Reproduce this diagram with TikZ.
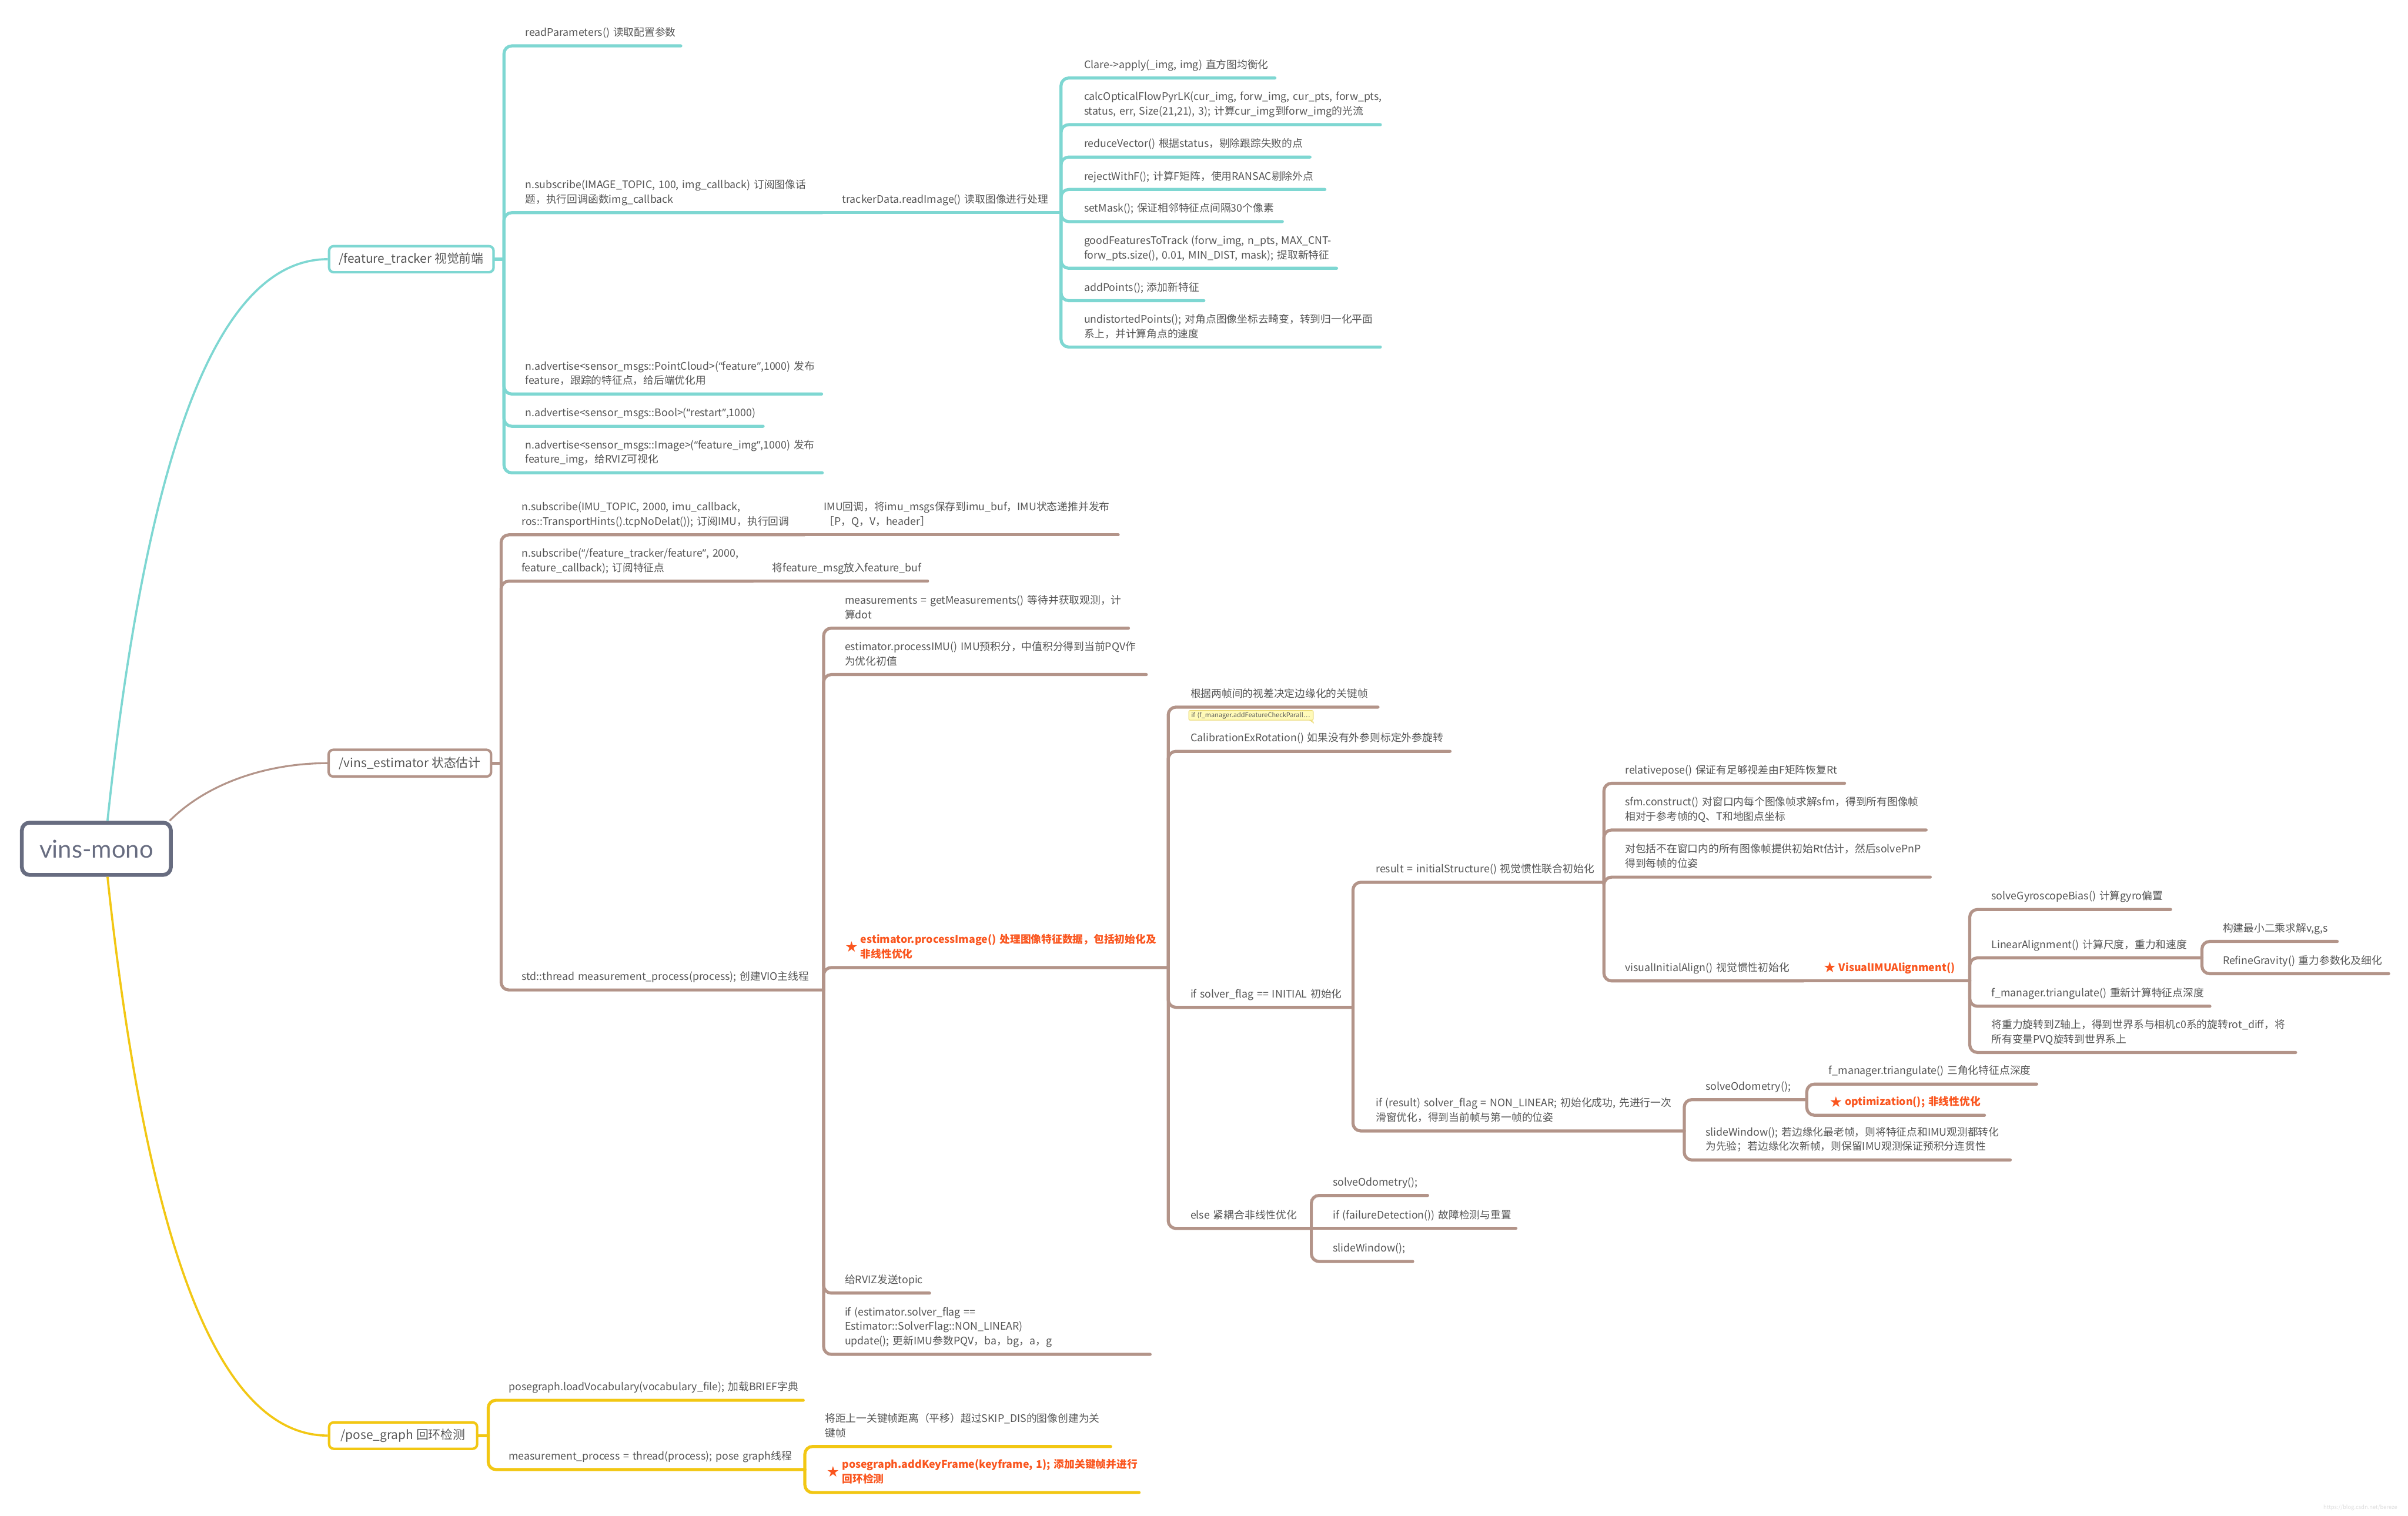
\documentclass[tikz,border=0pt]{standalone}
\usepackage{fontspec}
\setmainfont{Noto Sans CJK SC}
\newfontfamily\starfont{DejaVu Sans}
\newfontfamily\rootfont{Lato}
\newfontfamily\qf{Noto Sans}
\newcommand\qq[1]{{\qf “}#1{\qf ”}}
\usetikzlibrary{calc}
\definecolor{tealc}{RGB}{126,215,210}
\definecolor{brn}{RGB}{179,148,137}
\definecolor{ylw}{RGB}{242,199,19}
\definecolor{rootc}{RGB}{103,108,128}
\definecolor{txt}{RGB}{85,85,85}
\definecolor{redt}{RGB}{250,85,30}
\definecolor{notefill}{RGB}{255,250,185}
\definecolor{notebd}{RGB}{232,214,105}
\newcommand\fs{\fontsize{6.8}{9.5}\selectfont}
\newcommand\tfs{\fontsize{8}{10}\selectfont}
\newcommand\stS{\makebox[10.2pt][l]{\raisebox{-0.8pt}{\starfont\fontsize{9.5}{9.5}\selectfont ★}}}
\newcommand\stD{\makebox[10.2pt][l]{\smash{\raisebox{-5.5pt}{\starfont\fontsize{9.5}{9.5}\selectfont ★}}}}
\newcommand\TN[6][]{\pgfmathsetmacro\tnw{#5-#3}\node[tp,text width=\tnw pt,#1] (#2) at (#3,#4) {#6};}
\begin{document}
\begin{tikzpicture}[x=1pt,y=-1pt,
  tp/.style={anchor=south west, inner xsep=0pt, inner ysep=3.2pt, align=left, font=\fs, text=txt, execute at end node=\strut},
  redn/.style={text=redt, font=\fs\bfseries},
  ttl/.style={draw, line width=1.6pt, rounded corners=3pt, fill=white, font=\tfs, text=txt, inner sep=0pt},
  cT/.style={draw=tealc, line width=2pt, rounded corners=5pt, line cap=round},
  cB/.style={draw=brn, line width=2pt, rounded corners=5pt, line cap=round},
  cY/.style={draw=ylw, line width=2pt, rounded corners=5pt, line cap=round}]
\useasboundingbox (0,0) rectangle (1568,987);
\fill[white] (0,0) rectangle (1568,987);

% root and main branches
\node[draw=rootc, line width=2.5pt, rounded corners=5pt, minimum width=97pt, minimum height=34pt, inner sep=0pt, text=rootc, font=\rootfont\fontsize{16}{18}\selectfont] (root) at (62.75,552.75) {vins-mono};
\node[ttl, draw=tealc, minimum width=107.1pt, minimum height=17pt] (ft) at (267.85,168.8) {/feature\_tracker 视觉前端};
\node[ttl, draw=brn, minimum width=105.8pt, minimum height=17.4pt] (ve) at (266.9,497) {/vins\_estimator 状态估计};
\node[ttl, draw=ylw, minimum width=96.4pt, minimum height=17.2pt] (pg) at (262.5,934.9) {/pose\_graph 回环检测};

\draw[tealc, line width=1.4pt] ([xshift=7.25pt]root.north) .. controls +(25,-236) and +(-73.5,0) .. (ft.west);
\draw[brn, line width=1.2pt] ([xshift=-2pt]root.north east) .. controls +(25,-25) and +(-38.5,0) .. (ve.west);
\draw[ylw, line width=1.4pt] ([xshift=7.25pt]root.south) .. controls +(25,234) and +(-73.5,0) .. (pg.west);

% ---------- feature_tracker ----------
\TN{f1}{341.9}{29.9}{442.9}{\mbox{readParameters() 读取配置参数}}
\TN{f2}{341.9}{138.5}{535}{\mbox{n.subscribe(IMAGE\_TOPIC, 100, img\_callback) 订阅图像话}\\\mbox{题，执行回调函数img\_callback}}
\TN{f3}{341.9}{256.6}{534.6}{\mbox{n.advertise<sensor\_msgs::PointCloud>(\qq{feature},1000) 发布}\\\mbox{feature，跟踪的特征点，给后端优化用}}
\TN{f4}{341.9}{277.6}{496.5}{\mbox{n.advertise<sensor\_msgs::Bool>(\qq{restart},1000)}}
\TN{f5}{341.9}{307.9}{535}{\mbox{n.advertise<sensor\_msgs::Image>(\qq{feature\_img},1000) 发布}\\\mbox{feature\_img，给RVIZ可视化}}
\TN{t0}{548.3}{138.5}{690.5}{\mbox{trackerData.readImage() 读取图像进行处理}}
\TN{t1}{705.7}{50.8}{829.8}{\mbox{Clare->apply(\_img, img) 直方图均衡化}}
\TN{t2}{705.7}{81.2}{898.4}{\mbox{calcOpticalFlowPyrLK(cur\_img, forw\_img, cur\_pts, forw\_pts,}\\\mbox{status, err, Size(21,21), 3); 计算cur\_img到forw\_img的光流}}
\TN{t3}{705.7}{102.3}{852.6}{\mbox{reduceVector() 根据status，剔除跟踪失败的点}}
\TN{t4}{705.7}{123.4}{862.3}{\mbox{rejectWithF(); 计算F矩阵，使用RANSAC剔除外点}}
\TN{t5}{705.7}{144.3}{834.6}{\mbox{setMask(); 保证相邻特征点间隔30个像素}}
\TN{t6}{705.7}{174.7}{869.9}{\mbox{goodFeaturesToTrack (forw\_img, n\_pts, MAX\_CNT-}\\\mbox{forw\_pts.size(), 0.01, MIN\_DIST, mask); 提取新特征}}
\TN{t7}{705.7}{195.8}{783.5}{\mbox{addPoints(); 添加新特征}}
\TN{t8}{705.7}{226.0}{898.4}{\mbox{undistortedPoints(); 对角点图像坐标去畸变，转到归一化平面}\\\mbox{系上，并计算角点的速度}}

\coordinate (ftS) at (328.2,168.8);
\draw[cT] (ft.east) -- (ftS);
\foreach \n in {f1,f2,f3,f4,f5} \draw[cT] (ftS) |- (\n.south east);
\draw[cT] (f2.south east) -- (t0.south east);
\foreach \n in {t1,t2,t3,t4,t5,t6,t7,t8} \draw[cT] (t0.south east) |- (\n.south east);

% ---------- vins_estimator ----------
\TN{v1}{339.5}{348.3}{523.5}{\mbox{n.subscribe(IMU\_TOPIC, 2000, imu\_callback,}\\\mbox{ros::TransportHints().tcpNoDelat()); 订阅IMU，执行回调}}
\TN{v1c}{536.3}{348.3}{727.7}{\mbox{IMU回调，将imu\_msgs保存到imu\_buf，IMU状态递推并发布}\\\mbox{［P，Q，V，header］}}
\TN{v2}{339.5}{378.5}{490}{\mbox{n.subscribe(\qq{/feature\_tracker/feature}, 2000,}\\\mbox{feature\_callback); 订阅特征点}}
\TN{v2c}{502.8}{378.5}{603.6}{\mbox{将feature\_msg放入feature\_buf}}
\TN{v3}{339.5}{644.7}{535.9}{\mbox{std::thread measurement\_process(process); 创建VIO主线程}}

\TN{s1}{549.9}{409.1}{734.4}{\mbox{measurements = getMeasurements() 等待并获取观测，计}\\\mbox{算dot}}
\TN{s2}{549.9}{439.3}{746}{\mbox{estimator.processIMU() IMU预积分，中值积分得到当前PQV作}\\\mbox{为优化初值}}
\TN[redn]{s3}{550}{630.1}{760.3}{\mbox{\stD estimator.processImage() 处理图像特征数据，包括初始化及}\\\mbox{\hspace*{10.2pt}非线性优化}}
\TN{s4}{549.9}{842.1}{604.9}{\mbox{给RVIZ发送topic}}
\TN{s5}{549.9}{882}{748.5}{\mbox{if (estimator.solver\_flag ==}\\\mbox{Estimator::SolverFlag::NON\_LINEAR)}\\\mbox{update(); 更新IMU参数PQV，ba，bg，a，g}}

\TN{p1}{775}{460.5}{896.9}{\mbox{根据两帧间的视差决定边缘化的关键帧}}
\TN{p2}{775}{489.3}{943.8}{\mbox{CalibrationExRotation() 如果没有外参则标定外参旋转}}
\TN{p3}{775}{656}{880.6}{\mbox{if solver\_flag == INITIAL 初始化}}
\TN{p4}{775}{800}{853.5}{\mbox{else 紧耦合非线性优化}}

\TN{q1}{895.7}{574.6}{1044}{\mbox{result = initialStructure() 视觉惯性联合初始化}}
\TN{q2}{895.7}{736.5}{1096.3}{\mbox{if (result) solver\_flag = NON\_LINEAR; 初始化成功, 先进行一次}\\\mbox{滑窗优化，得到当前帧与第一帧的位姿}}

\TN{r1}{1058}{510.1}{1200.7}{\mbox{relativepose() 保证有足够视差由F矩阵恢复Rt}}
\TN{r2}{1058}{540.5}{1253.8}{\mbox{sfm.construct() 对窗口内每个图像帧求解sfm，得到所有图像帧}\\\mbox{相对于参考帧的Q、T和地图点坐标}}
\TN{r3}{1058}{571.2}{1256.5}{\mbox{对包括不在窗口内的所有图像帧提供初始Rt估计，然后solvePnP}\\\mbox{得到每帧的位姿}}
\TN{r4}{1058}{638.8}{1174}{\mbox{visualInitialAlign() 视觉惯性初始化}}
\TN[redn]{r4c}{1187}{638.8}{1282.2}{\mbox{\stS VisualIMUAlignment()}}

\TN{w1}{1296.6}{592.3}{1413}{\mbox{solveGyroscopeBias() 计算gyro偏置}}
\TN{w2}{1296.6}{623.8}{1433.4}{\mbox{LinearAlignment() 计算尺度，重力和速度}}
\TN{x1}{1447.2}{613.1}{1521.5}{\mbox{构建最小二乘求解v,g,s}}
\TN{x2}{1447.2}{634.1}{1555}{\mbox{RefineGravity() 重力参数化及细化}}
\TN{w3}{1296.6}{655.3}{1438.6}{\mbox{f\_manager.triangulate() 重新计算特征点深度}}
\TN{w4}{1296.6}{685.4}{1494.4}{\mbox{将重力旋转到Z轴上，得到世界系与相机c0系的旋转rot\_diff，将}\\\mbox{所有变量PVQ旋转到世界系上}}

\TN{y1}{1110.5}{716.1}{1176.1}{\mbox{solveOdometry();}}
\TN{z1}{1190.7}{706}{1325.8}{\mbox{f\_manager.triangulate() 三角化特征点深度}}
\TN[redn]{z2}{1191}{726.3}{1291.8}{\mbox{\stS optimization(); 非线性优化}}
\TN{y2}{1110.5}{755.4}{1308.6}{\mbox{slideWindow(); 若边缘化最老帧，则将特征点和IMU观测都转化}\\\mbox{为先验；若边缘化次新帧，则保留IMU观测保证预积分连贯性}}

\TN{e1}{867.7}{778.5}{929.2}{\mbox{solveOdometry();}}
\TN{e2}{867.7}{800}{986.7}{\mbox{if (failureDetection()) 故障检测与重置}}
\TN{e3}{867.7}{821.5}{919.5}{\mbox{slideWindow();}}

\coordinate (veS) at (326.3,497);
\draw[cB] (ve.east) -- (veS);
\foreach \n in {v1,v2,v3} \draw[cB] (veS) |- (\n.south east);
\draw[cB] (v1.south east) -- (v1c.south east);
\draw[cB] (v2.south east) -- (v2c.south east);
\foreach \n in {s1,s2,s3,s4,s5} \draw[cB] (v3.south east) |- (\n.south east);
\foreach \n in {p1,p2,p3,p4} \draw[cB] (s3.south east) |- (\n.south east);
\foreach \n in {q1,q2} \draw[cB] (p3.south east) |- (\n.south east);
\foreach \n in {r1,r2,r3,r4} \draw[cB] (q1.south east) |- (\n.south east);
\draw[cB] (r4.south east) -- (r4c.south east);
\foreach \n in {w1,w2,w3,w4} \draw[cB] (r4c.south east) |- (\n.south east);
\foreach \n in {x1,x2} \draw[cB] (w2.south east) |- (\n.south east);
\foreach \n in {y1,y2} \draw[cB] (q2.south east) |- (\n.south east);
\foreach \n in {z1,z2} \draw[cB] (y1.south east) |- (\n.south east);
\foreach \n in {e1,e3} \draw[cB] (p4.south east) |- (\n.south east);
\draw[cB] (p4.south east) -- (e2.south east);

% note under p1
\node[anchor=north west, fill=notefill, draw=notebd, line width=0.4pt, rounded corners=0.8pt, minimum width=81pt, minimum height=6.3pt, inner xsep=1.6pt, inner ysep=0pt, text width=77.8pt, align=left, text=txt, font=\fontsize{4.2}{5}\selectfont] (p1n) at (773.9,462.5) {if (f\_manager.addFeatureCheckParall…};
\fill[notefill, draw=notebd, line width=0.3pt] ([xshift=-2.2pt]p1n.south east) -- ([yshift=-1.6pt]p1n.south east) -- ([xshift=-0.6pt, yshift=-0.2pt]p1n.south east) -- cycle;

% ---------- pose_graph ----------
\TN{g1}{331.1}{911.9}{522.6}{\mbox{posegraph.loadVocabulary(vocabulary\_file); 加载BRIEF字典}}
\TN{g2}{331.1}{957}{523.7}{\mbox{measurement\_process = thread(process); pose graph线程}}
\TN{h1}{537}{942}{722.8}{\mbox{将距上一关键帧距离（平移）超过SKIP\_DIS的图像创建为关}\\\mbox{键帧}}
\TN[redn]{h2}{538}{972}{741.3}{\mbox{\stD posegraph.addKeyFrame(keyframe, 1); 添加关键帧并进行}\\\mbox{\hspace*{10.2pt}回环检测}}

\coordinate (pgS) at (317.9,934.9);
\draw[cY] (pg.east) -- (pgS);
\foreach \n in {g1,g2} \draw[cY] (pgS) |- (\n.south east);
\foreach \n in {h1,h2} \draw[cY] (g2.south east) |- (\n.south east);

\node[font=\fontsize{3.6}{4}\selectfont, text=black!13, inner sep=0pt] (wm) at (1537,982) {https://blog.csdn.net/bereze};
\end{tikzpicture}
\end{document}
